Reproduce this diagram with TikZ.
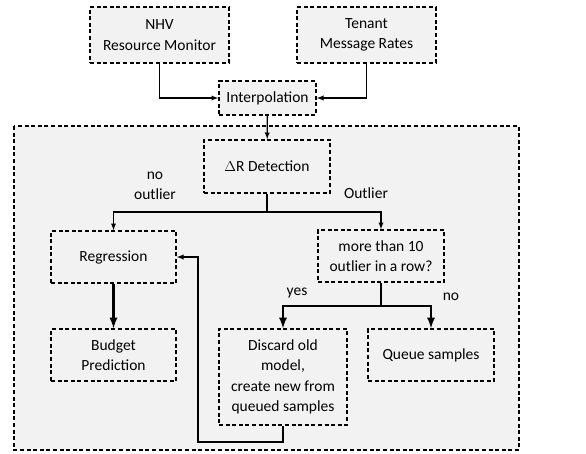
\documentclass[tikz,border=0pt]{standalone}
\usepackage{fontspec}
\setmainfont{Carlito}
\usepackage{amsmath}

\definecolor{boxgray}{RGB}{242,242,242}

\begin{document}
\begin{tikzpicture}[x=1pt, y=-1pt, >=latex, font=\fontsize{15.5}{20.5}\selectfont,
  block/.style={rectangle, draw, dash pattern=on 4pt off 2.6pt, line width=1.6pt, fill=boxgray, align=center, inner sep=2pt},
  flow/.style={->, line width=1.3pt},
  thickflow/.style={->, line width=2.6pt},
  lbl/.style={align=center, inner sep=0pt}]
  \useasboundingbox (0,0) rectangle (586,453);
  % container for the detection part
  \draw[dash pattern=on 4pt off 2.6pt, line width=1.6pt, fill=boxgray] (14,126) rectangle (519,450);

  \node[block, minimum width=139pt, minimum height=56pt] (nhv) at (159.5,35) {NHV\\Resource Monitor};
  \node[block, minimum width=139pt, minimum height=56pt] (tenant) at (366.5,35) {Tenant\\Message Rates};
  \node[block, minimum width=97pt, minimum height=34pt] (interp) at (267.5,98) {Interpolation};
  \node[block, minimum width=126pt, minimum height=53pt] (detect) at (267,166.5) {$\Delta\mathrm{R}$ Detection};
  \node[block, minimum width=125pt, minimum height=52pt] (regr) at (113.5,257) {Regression};
  \node[block, minimum width=126pt, minimum height=52pt] (check) at (381,256) {more than 10\\outlier in a row?};
  \node[block, minimum width=125pt, minimum height=52pt] (budget) at (113.5,355) {Budget\\Prediction};
  \node[block, minimum width=128pt, minimum height=96pt] (discard) at (283,377) {Discard old\\model,\\create new from\\queued samples};
  \node[block, minimum width=126pt, minimum height=52pt] (queue) at (431,355) {Queue samples};

  \coordinate (split1) at (267,212);
  \coordinate (split2) at (381,306);
  \coordinate (back) at (198,442);

  \draw[flow] (nhv) |- (interp);
  \draw[flow] (tenant) |- (interp);
  \draw[flow] (interp) -- (detect);
  \draw[flow] (detect) -- (split1) -| (regr);
  \draw[flow] (split1) -| (check);
  \draw[thickflow] (regr) -- (budget);
  \draw[thickflow] (check) -- (split2) -| (discard);
  \draw[thickflow] (split2) -| (queue);
  \draw[flow] (discard) |- (back) |- (regr);

  \node[lbl] (nooutlier) at (155,186) {no\\outlier};
  \node[lbl] (outlier) at (366,193) {Outlier};
  \node[lbl] (yes) at (297,293) {yes};
  \node[lbl] (no) at (451,297) {no};
\end{tikzpicture}
\end{document}
